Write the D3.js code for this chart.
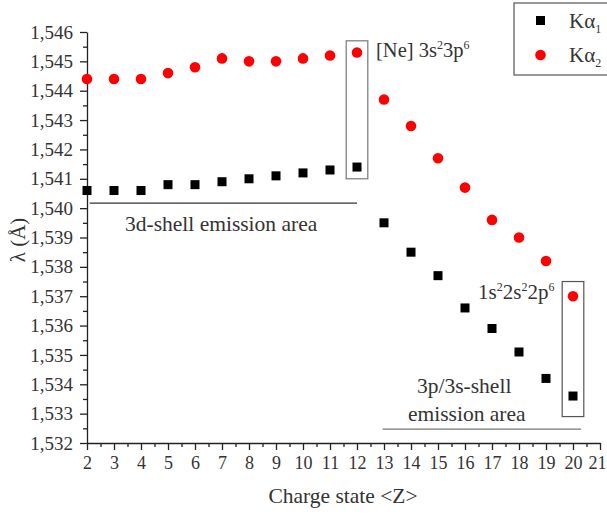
<!DOCTYPE html>
<html>
<head>
<meta charset="utf-8">
<script src="https://cdn.jsdelivr.net/npm/d3@7"></script>
<style>
  body { margin: 0; background: #fff; }
  .axis path, .axis line { stroke: #222; stroke-width: 1.3; }
</style>
</head>
<body>
<div class="chart"></div>
<script>
const W = 607, H = 515;
const FONT = '"Liberation Serif", "Times New Roman"';

// charge states and wavelengths (Å)
const charge = [2, 3, 4, 5, 6, 7, 8, 9, 10, 11, 12, 13, 14, 15, 16, 17, 18, 19, 20];
const ka1 = [1.5406, 1.5406, 1.5406, 1.5408, 1.5408, 1.5409, 1.5410, 1.5411, 1.5412, 1.5413, 1.5414,
             1.5395, 1.5385, 1.5377, 1.5366, 1.5359, 1.5351, 1.5342, 1.5336];
const ka2 = [1.5444, 1.5444, 1.5444, 1.5446, 1.5448, 1.5451, 1.5450, 1.5450, 1.5451, 1.5452, 1.5453,
             1.5437, 1.5428, 1.5417, 1.5407, 1.5396, 1.5390, 1.5382, 1.5370];
const xTicks = d3.range(2, 22);
const yTicks = d3.range(1.532, 1.5465, 0.001);

const x = d3.scaleLinear().domain([2, 21]).range([87, 600]);
const y = d3.scaleLinear().domain([1.532, 1.546]).range([443, 32]);

const svg = d3.select('.chart').append('svg')
    .attr('width', W)
    .attr('height', H)
    .style('font-family', FONT);

// minor ticks
svg.append('g')
    .attr('class', 'axis')
    .attr('transform', 'translate(0,443)')
    .call(d3.axisBottom(x).tickValues(d3.range(2.5, 21, 1)).tickSize(4).tickFormat(''))
    .select('.domain').remove();
svg.append('g')
    .attr('class', 'axis')
    .attr('transform', 'translate(87,0)')
    .call(d3.axisLeft(y).tickValues(d3.range(1.5325, 1.546, 0.001)).tickSize(4).tickFormat(''))
    .select('.domain').remove();

// major axes
const xAxis = svg.append('g')
    .attr('class', 'axis x-axis')
    .attr('transform', 'translate(0,443)')
    .call(d3.axisBottom(x).tickValues(xTicks).tickSize(7).tickSizeOuter(0).tickPadding(6).tickFormat(d3.format('d')));

const yAxis = svg.append('g')
    .attr('class', 'axis y-axis')
    .attr('transform', 'translate(87,0)')
    .call(d3.axisLeft(y).tickValues(yTicks).tickSize(7).tickSizeOuter(0).tickPadding(7)
        .tickFormat(d => d3.format('.3f')(d).replace('.', ',')));

xAxis.selectAll('text').attr('font-size', 18);
xAxis.selectAll('text').filter(d => d === 21).attr('dx', -3);
yAxis.selectAll('text').attr('font-size', 19);
[xAxis, yAxis].forEach(g => g.selectAll('text')
    .style('font-family', FONT)
    .attr('fill', '#333'));

// axis titles
svg.append('text')
    .attr('x', 343).attr('y', 503)
    .attr('text-anchor', 'middle')
    .attr('font-size', 21.5).attr('fill', '#333')
    .text('Charge state <Z>');

svg.append('text')
    .attr('transform', 'translate(25,240) rotate(-90)')
    .attr('text-anchor', 'middle')
    .attr('font-size', 21).attr('fill', '#333')
    .text('λ (Å)');

// annotation lines and boxes
svg.append('line')
    .attr('x1', x(2.1)).attr('x2', x(12))
    .attr('y1', y(1.54017)).attr('y2', y(1.54017))
    .attr('stroke', '#333').attr('stroke-width', 1.2);

svg.append('line')
    .attr('x1', x(12.95)).attr('x2', x(20.3))
    .attr('y1', y(1.53247)).attr('y2', y(1.53247))
    .attr('stroke', '#777').attr('stroke-width', 1.2);

svg.append('rect')
    .attr('x', x(11.6)).attr('y', y(1.5457))
    .attr('width', x(12.4) - x(11.6)).attr('height', y(1.5410) - y(1.5457))
    .attr('fill', 'none').attr('stroke', '#777').attr('stroke-width', 1.2);

svg.append('rect')
    .attr('x', x(19.6)).attr('y', y(1.5375))
    .attr('width', x(20.4) - x(19.6)).attr('height', y(1.5329) - y(1.5375))
    .attr('fill', 'none').attr('stroke', '#555').attr('stroke-width', 1.2);

// annotation texts
const ann = svg.append('g').attr('font-size', 21.5).attr('fill', '#333');
ann.append('text').attr('x', 125).attr('y', 231)
    .text('3d-shell emission area');

const ne = ann.append('text').attr('x', 376).attr('y', 57).attr('font-size', 20.5);
ne.append('tspan').text('[Ne] 3s');
ne.append('tspan').attr('font-size', 12).attr('dy', -8).text('2');
ne.append('tspan').attr('dy', 8).text('3p');
ne.append('tspan').attr('font-size', 12).attr('dy', -8).text('6');

const ls = ann.append('text').attr('x', 478).attr('y', 299).attr('font-size', 21);
ls.append('tspan').text('1s');
ls.append('tspan').attr('font-size', 12).attr('dy', -8).text('2');
ls.append('tspan').attr('dy', 8).text('2s');
ls.append('tspan').attr('font-size', 12).attr('dy', -8).text('2');
ls.append('tspan').attr('dy', 8).text('2p');
ls.append('tspan').attr('font-size', 12).attr('dy', -8).text('6');

ann.append('text').attr('x', 417).attr('y', 393).text('3p/3s-shell');
ann.append('text').attr('x', 408).attr('y', 421).text('emission area');

// data points
svg.append('g').selectAll('rect')
    .data(charge)
    .join('rect')
    .attr('x', (d, i) => x(d) - 4.5)
    .attr('y', (d, i) => y(ka1[i]) - 4.5)
    .attr('width', 9).attr('height', 9)
    .attr('fill', '#000');

svg.append('g').selectAll('circle')
    .data(charge)
    .join('circle')
    .attr('cx', d => x(d))
    .attr('cy', (d, i) => y(ka2[i]))
    .attr('r', 5.3)
    .attr('fill', '#f00');

// legend
const lg = svg.append('g');
lg.append('rect')
    .attr('x', 514).attr('y', 3).attr('width', 110).attr('height', 72)
    .attr('fill', '#fff').attr('stroke', '#555').attr('stroke-width', 1.2);
lg.append('rect').attr('x', 536).attr('y', 16).attr('width', 9).attr('height', 9).attr('fill', '#000');
lg.append('circle').attr('cx', 540.5).attr('cy', 55).attr('r', 5.3).attr('fill', '#f00');
[['1', 28], ['2', 62]].forEach(([s, yy]) => {
    const t = lg.append('text').attr('x', 569).attr('y', yy).attr('font-size', 21).attr('fill', '#333');
    t.append('tspan').text('Kα');
    t.append('tspan').attr('font-size', 12).attr('dy', 5).text(s);
});
</script>
</body>
</html>
